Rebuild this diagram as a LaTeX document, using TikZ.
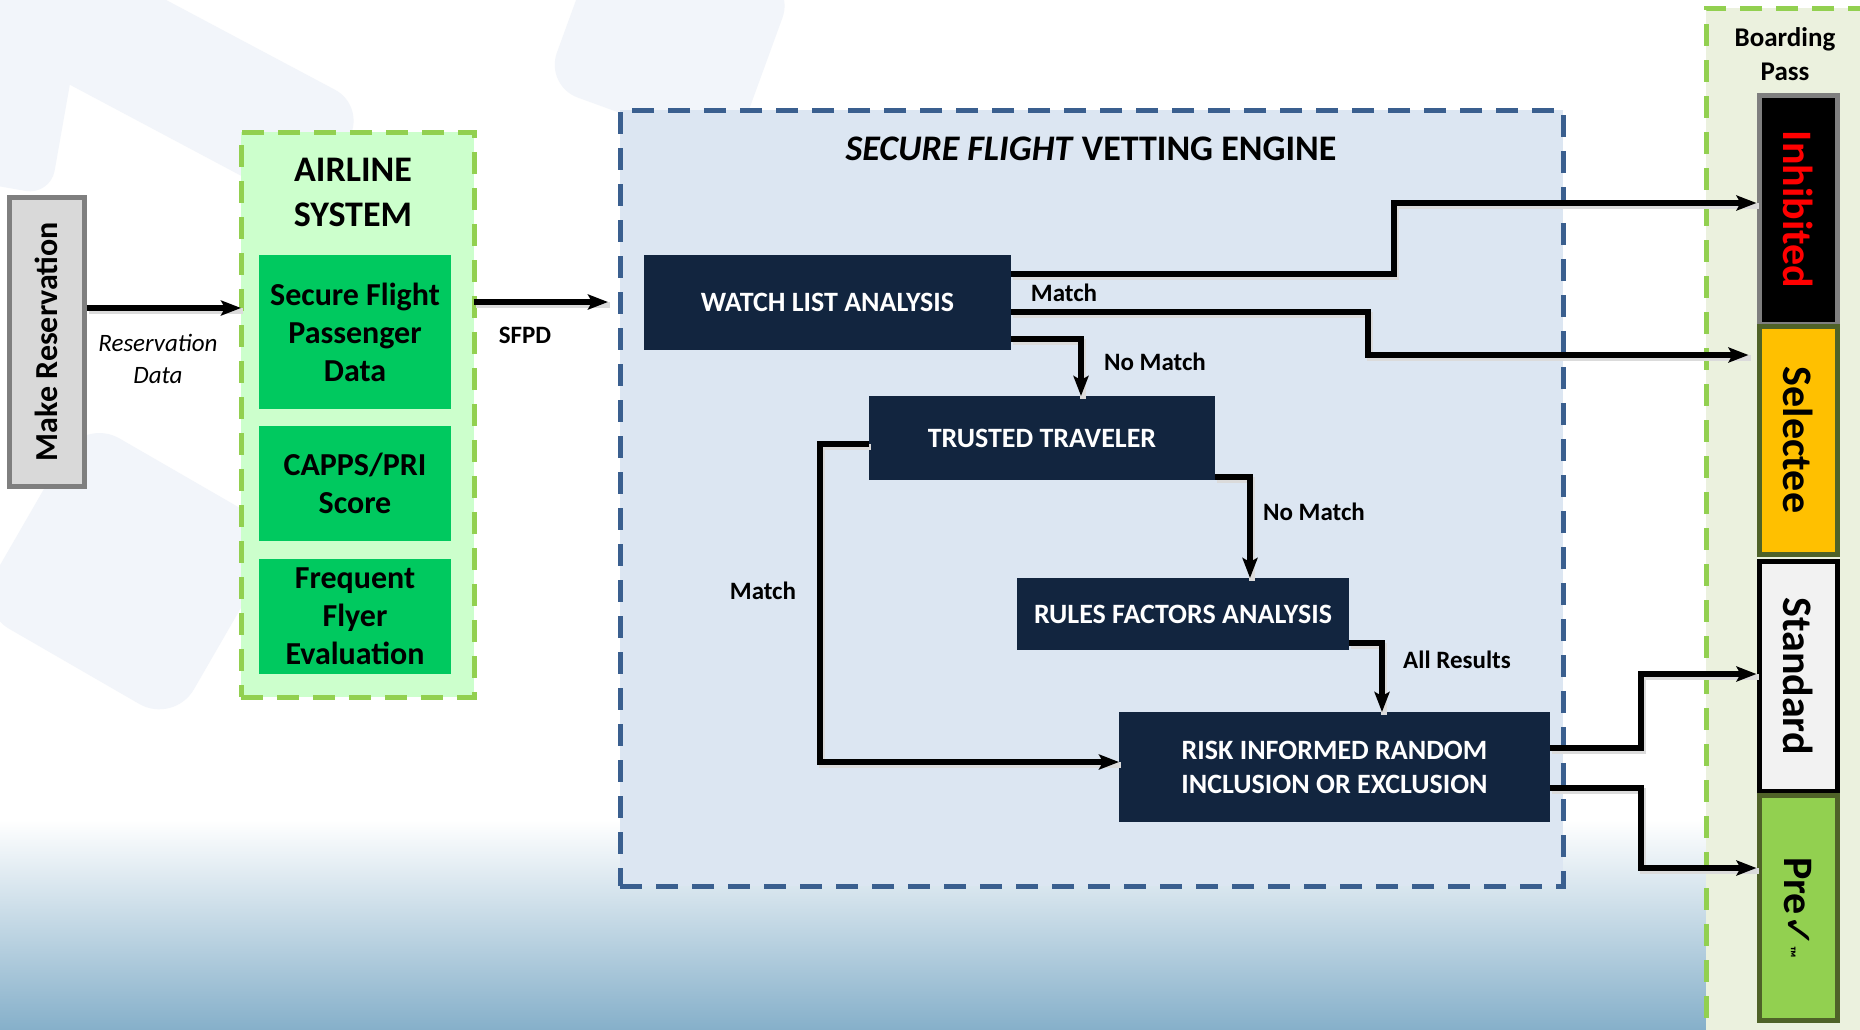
\documentclass[tikz,border=0pt]{standalone}
\usepackage{fontspec}
\setmainfont{Carlito}
\newfontfamily\symfont{DejaVu Sans}
\usetikzlibrary{arrows.meta,calc}
\definecolor{navy}{HTML}{12253F}
\definecolor{engfill}{HTML}{DCE6F2}
\definecolor{engline}{HTML}{3A5F8F}
\definecolor{airfill}{HTML}{CCFFCC}
\definecolor{litegreen}{HTML}{92D050}
\definecolor{boxgreen}{HTML}{00C95F}
\definecolor{bpfill}{HTML}{EBF1DE}
\definecolor{olive}{HTML}{4F6228}
\definecolor{selorange}{HTML}{FFC000}
\definecolor{mrfill}{HTML}{D9D9D9}
\definecolor{mrline}{HTML}{7F7F7F}
\definecolor{bgshape}{HTML}{F2F5FA}
\definecolor{grad1}{HTML}{C3E0E8}
\definecolor{grad2}{HTML}{86B0CA}
\newcommand{\fsz}[2]{\fontsize{#1}{#2}\selectfont}
\begin{document}
\begin{tikzpicture}[x=1pt,y=-1pt,
  box/.style={anchor=north west, inner sep=0pt, outer sep=0pt, align=center},
  navybox/.style={box, fill=navy, text=white, font=\bfseries\fsz{28}{34}},
  greenbox/.style={box, fill=boxgreen, font=\bfseries\fsz{32}{38}},
  strip/.style={rotate=-90, inner sep=0pt, line width=5pt, minimum height=78pt, font=\bfseries\fsz{42}{44}},
  dashbox/.style={box, line width=5pt, dash pattern=on 22pt off 14pt},
  arr/.style={line width=5.5pt, -{Stealth[length=20pt,width=15pt,inset=4pt]},
    preaction={draw=black!14, line width=6pt, -, transform canvas={shift={(2pt,-3pt)}}}},
  lbl/.style={font=\bfseries\fsz{25}{30}, inner sep=0pt},
]
\useasboundingbox (0,0) rectangle (1860,1029);
\clip (0,0) rectangle (1860,1029);
\fill[white] (0,0) rectangle (1860,1029);
% faint background shapes
\fill[bgshape, rounded corners=35pt, rotate around={-28:(170,70)}] (-20,10) rectangle (360,130);
\fill[bgshape, rounded corners=25pt, rotate around={-10:(30,80)}] (-30,-20) rectangle (70,190);
\fill[bgshape, rounded corners=35pt, rotate around={-20:(650,60)}] (560,-60) rectangle (760,120);
\fill[bgshape, rounded corners=40pt, rotate around={-30:(130,560)}] (20,460) rectangle (250,680);
% bottom gradient
\shade[top color=white, middle color=grad1, bottom color=grad2] (0,820) rectangle (1706,1029);
% boarding pass panel
\node[dashbox, fill=bpfill, draw=litegreen, minimum width=200pt, minimum height=1060pt] (bp) at (1706,8) {};
\node[font=\bfseries\fsz{27}{34}, align=center] (bptitle) at (1785,54) {Boarding\\Pass};
\node[strip, fill=black, draw=mrline, text=red, minimum width=229pt] (inh) at (1798,209.5) {Inhibited};
\node[strip, fill=selorange, draw=olive, minimum width=228pt] (sel) at (1798,440) {Selectee};
\node[strip, fill=white!95!black, draw=black, minimum width=230pt] (std) at (1798,676) {Standard};
\node[strip, fill=litegreen, draw=olive, minimum width=225pt] (pre) at (1798,907.5) {Pre{\symfont\fsz{40}{40}✓}\kern-2pt{\fsz{16}{18}™}};
% make reservation
\node[rotate=90, fill=mrfill, draw=mrline, line width=5pt, minimum width=289pt, minimum height=75pt, inner sep=0pt, font=\bfseries\fsz{32}{36}] (mr) at (46.5,341.5) {Make Reservation};
% airline system
\node[dashbox, fill=airfill, draw=litegreen, minimum width=233pt, minimum height=565pt] (air) at (241,132) {};
\node[font=\bfseries\fsz{36}{45}, align=center] (airtitle) at (353,192) {AIRLINE\\SYSTEM};
\node[greenbox, minimum width=192pt, minimum height=154pt] (g1) at (259,255) {Secure Flight\\Passenger\\Data};
\node[greenbox, minimum width=192pt, minimum height=115pt] (g2) at (259,426) {CAPPS/PRI\\Score};
\node[greenbox, minimum width=192pt, minimum height=115pt] (g3) at (259,559) {Frequent\\Flyer\\Evaluation};
% vetting engine
\node[dashbox, fill=engfill, draw=engline, minimum width=943pt, minimum height=776pt] (eng) at (620,110) {};
\node[font=\bfseries\fsz{36}{40}] (engtitle) at (1091,149) {\textit{SECURE FLIGHT} VETTING ENGINE};
\node[navybox, minimum width=367pt, minimum height=95pt] (wl) at (644,255) {WATCH LIST ANALYSIS};
\node[navybox, minimum width=346pt, minimum height=84pt] (tt) at (869,396) {TRUSTED TRAVELER};
\node[navybox, minimum width=332pt, minimum height=72pt] (rfa) at (1017,578) {RULES FACTORS ANALYSIS};
\node[navybox, minimum width=431pt, minimum height=110pt] (risk) at (1119,712) {RISK INFORMED RANDOM\\INCLUSION OR EXCLUSION};
% connectors
\coordinate (rd) at (0,308);
\draw[arr] (mr.south |- rd) -- (air.west |- rd);
\node[font=\itshape\fsz{25}{32}, align=center] (rdl) at (158,359) {Reservation\\Data};
\coordinate (sf) at (0,302);
\draw[arr, shorten >=12pt] (air.east |- sf) -- (eng.west |- sf);
\node[lbl] (sfl) at (525,335) {SFPD};
\coordinate (w1) at (1394,274); \coordinate (w2) at (1394,203);
\draw[arr] (wl.east |- w1) -- (w1) -- (w2) -- (inh.south |- w2);
\coordinate (e1) at (1368,312); \coordinate (e2) at (1368,355);
\draw[arr, shorten >=8pt] (wl.east |- e1) -- (e1) -- (e2) -- (sel.south |- e2);
\node[lbl] (ml1) at (1064,293) {Match};
\coordinate (t1) at (1081,339);
\draw[arr] (wl.east |- t1) -- (t1) -- (t1 |- tt.north);
\node[lbl] (nm1) at (1155,362) {No Match};
\coordinate (r1) at (1250,477);
\draw[arr] (tt.east |- r1) -- (r1) -- (r1 |- rfa.north);
\node[lbl] (nm2) at (1314,512) {No Match};
\coordinate (m1) at (820,444); \coordinate (m2) at (820,762);
\draw[arr] (tt.west |- m1) -- (m1) -- (m2) -- (risk.west |- m2);
\node[lbl] (ml2) at (763,591) {Match};
\coordinate (a1) at (1382,643);
\draw[arr] (rfa.east |- a1) -- (a1) -- (a1 |- risk.north);
\node[lbl] (arl) at (1457,660) {All Results};
\coordinate (s1) at (1641,748); \coordinate (s2) at (1641,674);
\draw[arr] (risk.east |- s1) -- (s1) -- (s2) -- (std.south |- s2);
\coordinate (p1) at (1641,788); \coordinate (p2) at (1641,868);
\draw[arr] (risk.east |- p1) -- (p1) -- (p2) -- (pre.south |- p2);
\end{tikzpicture}
\end{document}
